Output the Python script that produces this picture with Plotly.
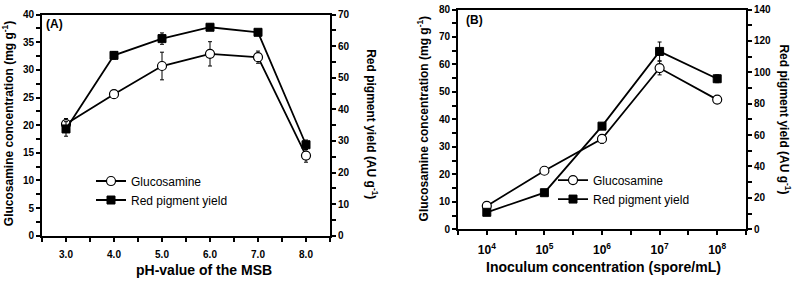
import numpy as np
import plotly.graph_objects as go

# ---------------- data ----------------
ph_values = [3.0, 4.0, 5.0, 6.0, 7.0, 8.0]
ph_labels = ["3.0", "4.0", "5.0", "6.0", "7.0", "8.0"]
glc_A = [20.2, 25.6, 30.7, 32.9, 32.3, 14.5]
glc_A_err = [1.0, 0.7, 2.5, 2.2, 1.1, 1.2]
red_A = [33.8, 57.1, 62.4, 66.0, 64.4, 28.8]
red_A_err = [2.3, 1.2, 1.8, 1.0, 0.8, 1.5]

inoculum = [1e4, 1e5, 1e6, 1e7, 1e8]
inoc_labels = ["10<sup>4</sup>", "10<sup>5</sup>", "10<sup>6</sup>", "10<sup>7</sup>", "10<sup>8</sup>"]
glc_B = [8.5, 21.3, 32.9, 58.7, 47.2]
glc_B_err = [0.6, 0.8, 1.6, 2.5, 1.0]
red_B = [10.8, 23.3, 65.7, 113.3, 95.9]
red_B_err = [0.6, 0.8, 2.0, 6.0, 2.5]

# ---------------- layout helpers ----------------
W, H = 794, 284
FONT = "Arial, Liberation Sans, sans-serif"


def px_x(p):
    return p / W


def px_y(p):
    return 1 - p / H


inoc_x = list(np.log10(inoculum))

circle = dict(symbol="circle", size=9, color="white", line=dict(color="black", width=1.2))
square = dict(symbol="square", size=8, color="black", line=dict(color="black", width=1))
err_style = dict(color="black", thickness=1, width=2)
line_style = dict(color="black", width=1.8)

fig = go.Figure()

# Panel A
fig.add_trace(go.Scatter(x=ph_values, y=glc_A, mode="lines+markers", name="Glucosamine",
                         marker=circle, line=line_style,
                         error_y=dict(type="data", array=glc_A_err, **err_style),
                         xaxis="x", yaxis="y", legend="legend"))
fig.add_trace(go.Scatter(x=ph_values, y=red_A, mode="lines+markers", name="Red pigment yield",
                         marker=square, line=line_style,
                         error_y=dict(type="data", array=red_A_err, **err_style),
                         xaxis="x", yaxis="y2", legend="legend"))
# Panel B
fig.add_trace(go.Scatter(x=inoc_x, y=glc_B, mode="lines+markers", name="Glucosamine",
                         marker=circle, line=line_style,
                         error_y=dict(type="data", array=glc_B_err, **err_style),
                         xaxis="x2", yaxis="y3", legend="legend2"))
fig.add_trace(go.Scatter(x=inoc_x, y=red_B, mode="lines+markers", name="Red pigment yield",
                         marker=square, line=line_style,
                         error_y=dict(type="data", array=red_B_err, **err_style),
                         xaxis="x2", yaxis="y4", legend="legend2"))

tickfont = dict(family=FONT, size=10, color="black", weight="bold")
tick_common = dict(ticks="outside", ticklen=4, tickwidth=1.5, tickcolor="black")
axis_common = dict(showline=True, linecolor="black", linewidth=2, showgrid=False,
                   zeroline=False, **tick_common)

A_dom_x = [px_x(42), px_x(330)]
A_dom_y = [px_y(240), px_y(10)]
B_dom_x = [px_x(458), px_x(746)]
B_dom_y = [px_y(233.3), px_y(4.7)]

fig.update_layout(
    width=W, height=H, margin=dict(l=0, r=0, t=0, b=0),
    paper_bgcolor="white", plot_bgcolor="white",
    font=dict(family=FONT, color="black"),
    xaxis=dict(domain=A_dom_x, anchor="y", range=[2.5, 8.5], tickvals=ph_values,
               ticktext=ph_labels, mirror=True, tickfont=tickfont, ticklabelstandoff=4,
               minor=dict(dtick=0.5, tick0=0, **tick_common),
               **axis_common),
    yaxis=dict(domain=A_dom_y, anchor="x", range=[0, 40], dtick=5, tickfont=tickfont,
               minor=dict(dtick=2.5, **tick_common),
               **axis_common),
    yaxis2=dict(domain=A_dom_y, anchor="x", overlaying="y", side="right", range=[0, 70], dtick=10,
                tickfont=tickfont, minor=dict(dtick=5, **tick_common),
                **axis_common),
    xaxis2=dict(domain=B_dom_x, anchor="y3", range=[3.5, 8.5], tickvals=inoc_x,
                ticktext=inoc_labels, mirror=True, ticklabelstandoff=4,
                tickfont=dict(family=FONT, size=12, color="black", weight="bold"),
                minor=dict(dtick=0.5, tick0=0, **tick_common),
                **axis_common),
    yaxis3=dict(domain=B_dom_y, anchor="x2", range=[0, 80], dtick=10, tickfont=tickfont,
                minor=dict(dtick=5, **tick_common),
                **axis_common),
    yaxis4=dict(domain=B_dom_y, anchor="x2", overlaying="y3", side="right", range=[0, 140], dtick=20,
                tickfont=tickfont, minor=dict(dtick=10, **tick_common),
                **axis_common),
    legend=dict(x=px_x(91), y=px_y(193), xanchor="left", yanchor="middle",
                bgcolor="rgba(0,0,0,0)", font=dict(family=FONT, size=12, color="black"),
                itemwidth=30, tracegroupgap=0),
    legend2=dict(x=px_x(553), y=px_y(192), xanchor="left", yanchor="middle",
                 bgcolor="rgba(0,0,0,0)", font=dict(family=FONT, size=12, color="black"),
                 itemwidth=30, tracegroupgap=0),
    showlegend=True,
)

title_font = dict(family=FONT, size=12, color="black", weight="bold")
xt_font = dict(family=FONT, size=14, color="black", weight="bold")
annos = [
    dict(text="(A)", x=px_x(44), y=px_y(20), xanchor="left", yanchor="middle",
         font=dict(family=FONT, size=12, color="black", weight="bold")),
    dict(text="(B)", x=px_x(464), y=px_y(16), xanchor="left", yanchor="middle",
         font=dict(family=FONT, size=12, color="black", weight="bold")),
    dict(text="Glucosamine concentration (mg g<sup>-1</sup>)", x=px_x(8), y=px_y(124),
         textangle=-90, xanchor="center", yanchor="middle", font=title_font),
    dict(text="Red pigment yield (AU g<sup>-1</sup>)", x=px_x(372), y=px_y(124),
         textangle=90, xanchor="center", yanchor="middle", font=title_font),
    dict(text="Glucosamine concentration (mg g<sup>-1</sup>)", x=px_x(423), y=px_y(119),
         textangle=-90, xanchor="center", yanchor="middle", font=title_font),
    dict(text="Red pigment yield (AU g<sup>-1</sup>)", x=px_x(785), y=px_y(119),
         textangle=90, xanchor="center", yanchor="middle", font=title_font),
    dict(text="pH-value of the MSB", x=px_x(204), y=px_y(276), xanchor="center",
         yanchor="middle", font=xt_font),
    dict(text="Inoculum concentration (spore/mL)", x=px_x(603), y=px_y(273), xanchor="center",
         yanchor="middle", font=xt_font),
]
for a in annos:
    a.update(xref="paper", yref="paper", showarrow=False)
fig.update_layout(annotations=annos)

fig.write_html("out.html", config={"displayModeBar": False},
               post_script="document.body.style.margin='0';document.body.style.overflow='hidden';")
